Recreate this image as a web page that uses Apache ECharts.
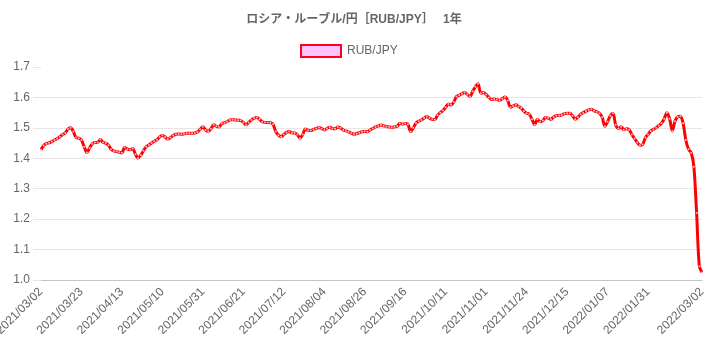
<!DOCTYPE html>
<html><head><meta charset="utf-8">
<script src="https://cdn.jsdelivr.net/npm/echarts@6/dist/echarts.min.js"></script>
<style>html,body{margin:0;padding:0;background:#fff}#c{width:708px;height:354px}</style>
</head><body><div id="c"></div>
<script>
const titleText = 'ロシア・ルーブル/円［RUB/JPY］　 1年';
const seriesName = 'RUB/JPY';
const dates = [
'2021/03/02','2021/03/03','2021/03/04','2021/03/05','2021/03/08','2021/03/09','2021/03/10','2021/03/11','2021/03/12','2021/03/15','2021/03/16','2021/03/17','2021/03/18','2021/03/19','2021/03/22','2021/03/23','2021/03/24','2021/03/25','2021/03/26','2021/03/29','2021/03/30','2021/03/31',
'2021/04/01','2021/04/02','2021/04/05','2021/04/06','2021/04/07','2021/04/08','2021/04/09','2021/04/12','2021/04/13','2021/04/14','2021/04/15','2021/04/16','2021/04/19','2021/04/20','2021/04/21','2021/04/22','2021/04/23','2021/04/26','2021/04/27','2021/04/28','2021/04/30',
'2021/05/06','2021/05/07','2021/05/10','2021/05/11','2021/05/12','2021/05/13','2021/05/14','2021/05/17','2021/05/18','2021/05/19','2021/05/20','2021/05/21','2021/05/24','2021/05/25','2021/05/26','2021/05/27','2021/05/28','2021/05/31',
'2021/06/01','2021/06/02','2021/06/03','2021/06/04','2021/06/07','2021/06/08','2021/06/09','2021/06/10','2021/06/11','2021/06/14','2021/06/15','2021/06/16','2021/06/17','2021/06/18','2021/06/21','2021/06/22','2021/06/23','2021/06/24','2021/06/25','2021/06/28','2021/06/29','2021/06/30',
'2021/07/01','2021/07/02','2021/07/05','2021/07/06','2021/07/07','2021/07/08','2021/07/09','2021/07/12','2021/07/13','2021/07/14','2021/07/15','2021/07/16','2021/07/19','2021/07/20','2021/07/21','2021/07/26','2021/07/27','2021/07/28','2021/07/29','2021/07/30',
'2021/08/02','2021/08/03','2021/08/04','2021/08/05','2021/08/06','2021/08/10','2021/08/11','2021/08/12','2021/08/13','2021/08/16','2021/08/17','2021/08/18','2021/08/19','2021/08/20','2021/08/23','2021/08/24','2021/08/25','2021/08/26','2021/08/27','2021/08/30','2021/08/31',
'2021/09/01','2021/09/02','2021/09/03','2021/09/06','2021/09/07','2021/09/08','2021/09/09','2021/09/10','2021/09/13','2021/09/14','2021/09/15','2021/09/16','2021/09/17','2021/09/21','2021/09/22','2021/09/24','2021/09/27','2021/09/28','2021/09/29','2021/09/30',
'2021/10/01','2021/10/04','2021/10/05','2021/10/06','2021/10/07','2021/10/08','2021/10/11','2021/10/12','2021/10/13','2021/10/14','2021/10/15','2021/10/18','2021/10/19','2021/10/20','2021/10/21','2021/10/22','2021/10/25','2021/10/26','2021/10/27','2021/10/28','2021/10/29',
'2021/11/01','2021/11/02','2021/11/04','2021/11/05','2021/11/08','2021/11/09','2021/11/10','2021/11/11','2021/11/12','2021/11/15','2021/11/16','2021/11/17','2021/11/18','2021/11/19','2021/11/22','2021/11/24','2021/11/25','2021/11/26','2021/11/29','2021/11/30',
'2021/12/01','2021/12/02','2021/12/03','2021/12/06','2021/12/07','2021/12/08','2021/12/09','2021/12/10','2021/12/13','2021/12/14','2021/12/15','2021/12/16','2021/12/17','2021/12/20','2021/12/21','2021/12/22','2021/12/23','2021/12/24','2021/12/27','2021/12/28','2021/12/29','2021/12/30',
'2022/01/04','2022/01/05','2022/01/06','2022/01/07','2022/01/11','2022/01/12','2022/01/13','2022/01/14','2022/01/17','2022/01/18','2022/01/19','2022/01/20','2022/01/21','2022/01/24','2022/01/25','2022/01/26','2022/01/27','2022/01/28','2022/01/31',
'2022/02/01','2022/02/02','2022/02/03','2022/02/04','2022/02/07','2022/02/08','2022/02/09','2022/02/10','2022/02/14','2022/02/15','2022/02/16','2022/02/17','2022/02/18','2022/02/21','2022/02/22','2022/02/24','2022/02/25','2022/02/28',
'2022/03/01','2022/03/02'
];
const rates = [
1.428,1.442,1.448,1.451,1.455,1.460,1.465,1.471,1.478,1.483,
1.496,1.500,1.488,1.468,1.466,1.460,1.438,1.419,1.434,1.448,
1.452,1.452,1.462,1.452,1.450,1.443,1.430,1.424,1.422,1.420,
1.418,1.436,1.430,1.428,1.432,1.413,1.401,1.410,1.425,1.438,
1.444,1.450,1.456,1.461,1.470,1.476,1.470,1.463,1.468,1.475,
1.479,1.480,1.479,1.480,1.482,1.482,1.482,1.483,1.486,1.495,
1.504,1.493,1.489,1.497,1.510,1.505,1.503,1.514,1.517,1.520,
1.526,1.527,1.526,1.525,1.524,1.518,1.510,1.518,1.526,1.532,
1.534,1.528,1.520,1.518,1.518,1.517,1.512,1.488,1.476,1.471,
1.478,1.485,1.488,1.483,1.483,1.478,1.466,1.478,1.496,1.492,
1.491,1.495,1.498,1.501,1.498,1.493,1.498,1.502,1.498,1.497,
1.503,1.500,1.493,1.490,1.487,1.482,1.479,1.481,1.484,1.487,
1.489,1.487,1.493,1.498,1.503,1.506,1.509,1.507,1.504,1.503,
1.502,1.503,1.505,1.515,1.512,1.514,1.512,1.488,1.500,1.516,
1.522,1.526,1.532,1.537,1.532,1.528,1.527,1.542,1.550,1.557,
1.568,1.578,1.575,1.585,1.603,1.607,1.612,1.616,1.610,1.603,
1.620,1.635,1.645,1.614,1.616,1.610,1.600,1.593,1.595,1.593,
1.590,1.596,1.601,1.590,1.568,1.572,1.576,1.570,1.565,1.555,
1.548,1.545,1.528,1.510,1.528,1.520,1.524,1.534,1.532,1.528,
1.536,1.540,1.541,1.542,1.547,1.548,1.548,1.540,1.528,1.535,
1.545,1.550,1.555,1.559,1.561,1.556,1.553,1.548,1.535,1.505,
1.520,1.540,1.548,1.510,1.498,1.504,1.494,1.497,1.494,1.478,
1.465,1.452,1.443,1.445,1.468,1.478,1.490,1.495,1.500,1.508,
1.515,1.530,1.550,1.530,1.490,1.522,1.536,1.538,1.515,1.460,
1.430,1.418,1.372,1.220,1.045,1.025
];
const yMin = 1.0, yMax = 1.7, yStep = 0.1;
const labelEvery = 15;

const FONT = '"Liberation Sans", Arial, "Noto Sans CJK JP", sans-serif';
const lastIdx = dates.length - 1;
const chart = echarts.init(document.getElementById('c'), null, {renderer: 'canvas'});
chart.setOption({
  animation: false,
  backgroundColor: '#fff',
  textStyle: {fontFamily: FONT},
  title: {
    text: titleText, left: 'center', top: 9,
    textStyle: {fontSize: 12, fontWeight: 'bold', color: '#666', fontFamily: FONT}
  },
  legend: {
    left: 295, top: 39, itemWidth: 40, itemHeight: 12,
    selectedMode: false,
    textStyle: {fontSize: 12, color: '#666', fontFamily: FONT, padding: [0, 0, 0, 1]},
    data: [{name: seriesName, icon: 'rect',
      itemStyle: {color: '#ffc4ff', borderColor: '#ff0022', borderWidth: 2}}]
  },
  grid: {left: 41, right: 6, top: 67, bottom: 74, containLabel: false, outerBoundsMode: 'none'},
  xAxis: {
    type: 'category', data: dates, boundaryGap: false,
    axisLine: {show: true, lineStyle: {color: '#c4c4c4', width: 1}},
    axisTick: {show: false},
    splitLine: {show: false},
    axisLabel: {
      rotate: 45, color: '#666', fontSize: 12, fontFamily: FONT, margin: 10, hideOverlap: false,
      interval: function (i) { return i === lastIdx || (i % labelEvery === 0 && lastIdx - i >= labelEvery); }
    }
  },
  yAxis: {
    type: 'value', min: yMin, max: yMax, interval: yStep,
    axisLine: {show: false},
    axisTick: {show: true, length: 8, lineStyle: {color: '#e6e6e6'}},
    splitLine: {show: true, showMaxLine: false, lineStyle: {color: '#e6e6e6', width: 1}},
    axisLabel: {color: '#666', fontSize: 12, fontFamily: FONT, margin: 11,
      formatter: function (v) { return v.toFixed(1); }}
  },
  series: [{
    name: seriesName, type: 'line', data: rates,
    smooth: 0.3, symbol: 'circle', symbolSize: 2, showSymbol: true, showAllSymbol: true,
    itemStyle: {color: '#ffb8c8', borderColor: '#ff0000', borderWidth: 0},
    lineStyle: {color: '#ff0000', width: 3},
    emphasis: {disabled: true}
  }]
});
</script>
</body></html>
